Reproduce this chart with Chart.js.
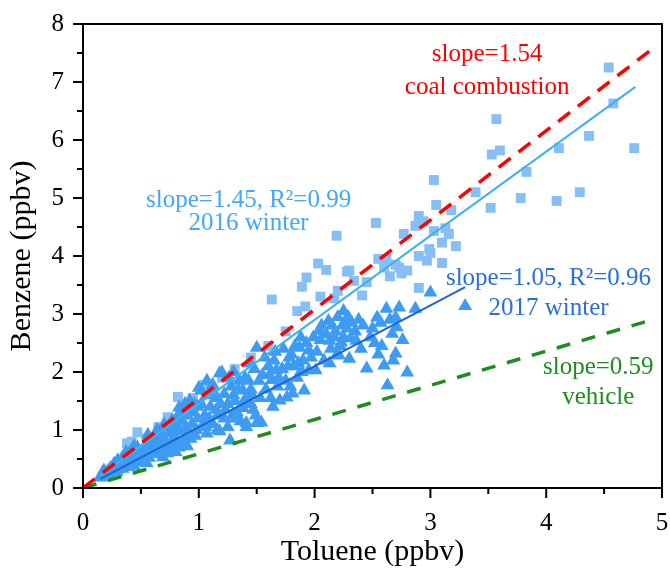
<!DOCTYPE html>
<html>
<head>
<meta charset="utf-8">
<script src="https://cdn.jsdelivr.net/npm/chart.js@4"></script>
<style>
  html, body { margin: 0; padding: 0; background: #fff; }
  #wrap { width: 670px; height: 570px; }
</style>
</head>
<body>
<div id="wrap"><canvas id="grafica"></canvas></div>
<script>
// 2016 winter (squares)
const invierno2016 = [
  [4.54,7.25],[4.58,6.63],[4.76,5.86],[4.37,6.07],[4.11,5.86],[3.57,6.36],[3.53,5.75],[3.60,5.82],
  [3.83,5.45],[3.39,5.10],[3.78,5.00],[3.52,4.83],[4.09,4.95],[4.29,5.10],[3.03,5.31],[3.05,4.88],
  [3.18,4.79],[2.53,4.57],[2.19,4.35],[2.87,4.52],[2.77,4.38],[2.90,4.69],[2.94,4.60],[3.03,4.43],
  [3.13,4.48],[3.16,4.38],[3.10,4.23],[3.22,4.17],[3.00,4.05],[3.10,3.88],[2.62,3.95],[2.73,3.80],
  [2.97,3.92],[2.90,4.00],[2.99,4.12],[2.28,3.73],[2.03,3.87],[2.10,3.76],[2.30,3.75],[1.93,3.63],
  [1.89,3.47],[2.34,3.57],[2.41,3.32],[1.63,3.25],[1.92,3.13],[2.17,3.27],[2.55,3.95],[2.60,3.80],
  [2.70,3.85],[2.75,3.70],[2.65,3.65],[2.90,3.45],[2.80,3.75],[2.45,3.55],[2.20,3.40],[2.05,3.30],
  [1.85,3.05],[1.31,2.05],[1.05,1.78],[0.82,1.57],[0.73,1.22],[0.47,0.96],[0.38,0.77],[0.42,0.80],
  [0.55,0.85],[0.65,1.05],[1.20,1.90],[1.45,2.25],[1.60,2.45],[1.75,2.70],[0.30,0.45],[0.20,0.30],
  [0.95,1.55],[1.10,1.75]
];

// 2017 winter (triangles)
const invierno2017 = [
  [3.30,3.14],[3.00,3.37],[2.87,3.09],[2.73,3.11],[2.62,3.09],[2.54,2.94],[2.57,2.85],[2.70,2.94],
  [2.71,2.77],[2.67,2.66],[2.40,2.40],[2.31,2.58],[2.23,2.51],[2.70,2.32],[2.60,2.11],[2.45,2.06],
  [2.80,1.99],[2.63,1.77],[2.30,2.23],[2.19,2.29],[2.36,2.54],[2.13,2.54],[2.21,2.29],[2.13,2.15],
  [2.01,2.03],[1.87,2.42],[2.04,2.71],[1.88,2.60],[1.95,2.37],[1.95,2.03],[1.91,1.68],[1.81,1.63],
  [1.76,1.56],[1.70,1.51],[1.63,1.86],[1.67,2.03],[1.50,2.42],[1.54,1.13],[1.50,1.12],[1.41,1.05],
  [2.15,2.80],[2.20,2.95],[2.25,3.05],[2.10,2.65],[2.28,2.75],[2.18,2.70],[2.05,2.55],[2.25,2.60],
  [2.32,2.85],[2.12,2.88],[2.27,2.90],[2.22,2.45],[2.35,2.70],
  [1.55,1.95],[1.60,2.10],[1.65,2.20],[1.72,2.05],[1.78,2.25],[1.82,2.10],[1.85,1.90],[1.58,1.70],
  [1.62,1.55],[1.68,1.75],[1.75,1.85],[1.80,2.30],[1.90,2.20],[1.52,1.85],[1.48,2.05],[1.45,1.70],
  [1.42,1.55],[1.47,1.35],
  [1.00,1.73],[1.02,1.68],[1.07,0.94],[1.18,1.98],[1.20,1.99],[1.27,0.82],[1.38,1.68],[1.41,1.12],
  [1.05,1.25],[1.10,1.40],[1.15,1.55],[1.12,1.10],[1.25,1.45],[1.30,1.60],[1.33,1.30],[1.22,1.20],
  [1.35,1.85],[1.28,1.75],[1.40,1.90],[1.15,1.35],[1.08,1.60],[1.25,1.05],[1.32,1.20],[1.45,1.45],
  [1.38,1.38],[1.18,0.98],[1.22,1.62],[1.04,1.10],[1.12,1.78],
  [0.92,1.51],[0.83,1.39],[0.77,1.17],[0.64,1.00],[0.83,0.70],[0.69,0.53],[0.55,0.43],[0.60,0.75],
  [0.70,0.85],[0.75,0.95],[0.80,1.05],[0.85,1.15],[0.90,1.25],[0.95,1.30],[0.65,0.65],[0.72,0.70],
  [0.78,0.80],[0.88,0.90],[0.93,0.85],[0.98,1.00],[0.58,0.60],[0.62,0.88],[0.68,0.95],[0.52,0.65],
  [0.55,0.78],[0.86,1.28],[0.96,1.45],[0.80,0.62],[0.90,0.72],[0.73,0.60],[0.99,1.20],[0.94,1.10],
  [0.43,0.48],[0.26,0.36],[0.17,0.26],[0.32,0.43],[0.20,0.22],[0.22,0.30],[0.25,0.28],[0.28,0.40],
  [0.30,0.32],[0.35,0.38],[0.38,0.50],[0.40,0.42],[0.45,0.58],[0.48,0.52],[0.50,0.62],[0.33,0.48],
  [0.42,0.65],[0.47,0.70],[0.36,0.55],[0.15,0.20],[0.18,0.30],[0.24,0.35],[0.50,0.45],[0.44,0.38],
  [0.16,0.18],[0.19,0.25],[0.21,0.27],[0.23,0.24],[0.27,0.33],[0.29,0.27],[0.31,0.38],[0.34,0.33],
  [0.37,0.45],[0.39,0.36],[0.41,0.55],[0.43,0.40],[0.46,0.47],[0.49,0.58],[0.27,0.42],[0.30,0.48],
  [0.34,0.52],[0.37,0.62],[0.40,0.60],[0.44,0.72],
  [0.52,0.50],[0.54,0.70],[0.57,0.52],[0.59,0.82],[0.61,0.62],[0.63,0.70],[0.66,0.80],[0.67,0.58],
  [0.71,0.78],[0.74,0.68],[0.76,1.05],[0.79,0.90],[0.81,0.75],[0.84,0.98],[0.87,0.80],[0.89,1.05],
  [0.91,0.95],[0.94,1.35],[0.97,0.90],[0.99,1.40],[0.56,0.92],[0.70,1.10],[0.82,1.25],[0.88,1.45],
  [1.02,1.45],[1.06,1.05],[1.09,1.20],[1.13,1.65],[1.16,1.25],[1.19,1.45],[1.23,1.35],[1.26,1.90],
  [1.29,1.25],[1.31,1.50],[1.34,1.70],[1.36,1.15],[1.39,1.50],[1.43,1.85],[1.46,1.60],[1.49,1.25],
  [1.07,1.85],[1.16,1.00],[1.30,2.00],[1.44,2.15],
  [1.53,1.55],[1.57,2.25],[1.61,1.95],[1.64,1.40],[1.66,2.35],[1.69,1.90],[1.73,2.40],[1.77,2.10],
  [1.79,1.75],[1.83,2.45],[1.86,2.15],[1.89,2.00],[1.93,2.50],[1.97,2.25],[1.99,2.60],[2.02,2.35],
  [2.06,2.80],[2.08,2.20],[2.14,2.40],[2.17,2.60],[2.24,2.80],[2.29,2.95],[2.38,2.90],[2.42,2.80],
  [2.48,2.60],[2.50,2.75],[2.52,2.50],[2.58,2.45],[2.65,2.90],[2.76,2.55],[2.68,2.20],[2.55,2.30]
];

// Rectas: [x inicio, x fin], pendiente
const pendientes = { carbon: 1.54, vehiculo: 0.59, w2016: 1.45, w2017: 1.05 };
const rangoCarbon = [0, 4.93];
const rangoVehiculo = [0, 4.93];
const rango2016 = [0.15, 4.77];
const rango2017 = [0.15, 3.30];

const ticksX = [0, 1, 2, 3, 4, 5];
const ticksY = [0, 1, 2, 3, 4, 5, 6, 7, 8];

const fuente = "'Liberation Serif', 'Times New Roman', serif";

function puntos(lista) {
  return lista.map(p => ({ x: p[0], y: p[1] }));
}
function recta(rango, m) {
  return rango.map(x => ({ x: x, y: m * x }));
}

// Textos sobre la grafica (coordenadas de datos)
const etiquetas = [
  { t: "slope=1.54", x: 3.49, y: 7.47, c: "#ff0000" },
  { t: "coal combustion", x: 3.49, y: 6.91, c: "#ff0000" },
  { t: "slope=1.45, R\u00B2=0.99", x: 1.43, y: 4.96, c: "#44a8f4" },
  { t: "2016 winter", x: 1.43, y: 4.56, c: "#44a8f4" },
  { t: "slope=1.05, R\u00B2=0.96", x: 4.02, y: 3.62, c: "#2a6fdc" },
  { t: "2017 winter", x: 4.02, y: 3.09, c: "#2a6fdc" },
  { t: "slope=0.59", x: 4.45, y: 2.08, c: "#1e8c1e" },
  { t: "vehicle", x: 4.45, y: 1.56, c: "#1e8c1e" }
];

const marco = {
  id: "marco",
  afterDatasetsDraw(chart) {
    const ctx = chart.ctx;
    const a = chart.chartArea;
    const sx = chart.scales.x, sy = chart.scales.y;
    ctx.save();
    ctx.strokeStyle = "#000";
    ctx.lineWidth = 2;
    ctx.strokeRect(a.left, a.top, a.right - a.left, a.bottom - a.top);
    ctx.beginPath();
    for (let v = 0; v <= 5.001; v += 0.5) {
      const px = sx.getPixelForValue(v);
      const len = Number.isInteger(v) ? 10 : 6;
      ctx.moveTo(px, a.bottom);
      ctx.lineTo(px, a.bottom + len);
    }
    for (let v = 0; v <= 8.001; v += 0.5) {
      const py = sy.getPixelForValue(v);
      const len = Number.isInteger(v) ? 10 : 6;
      ctx.moveTo(a.left, py);
      ctx.lineTo(a.left - len, py);
    }
    ctx.stroke();

    ctx.font = "25px " + fuente;
    ctx.textAlign = "center";
    ctx.textBaseline = "middle";
    etiquetas.forEach(e => {
      ctx.fillStyle = e.c;
      ctx.fillText(e.t, sx.getPixelForValue(e.x), sy.getPixelForValue(e.y));
    });
    ctx.restore();
  }
};

const ctx = document.getElementById("grafica").getContext("2d");
new Chart(ctx, {
  type: "scatter",
  data: {
    datasets: [
      {
        label: "coal combustion",
        data: recta(rangoCarbon, pendientes.carbon),
        showLine: true, pointRadius: 0,
        borderColor: "#ff0000", borderWidth: 3.5, borderDash: [15, 10],
        order: 0
      },
      {
        label: "vehicle",
        data: recta(rangoVehiculo, pendientes.vehiculo),
        showLine: true, pointRadius: 0,
        borderColor: "#1e8c1e", borderWidth: 3.5, borderDash: [14, 12],
        order: 0
      },
      {
        label: "fit 2016",
        data: recta(rango2016, pendientes.w2016),
        showLine: true, pointRadius: 0,
        borderColor: "#3fb0f2", borderWidth: 2,
        order: 0
      },
      {
        label: "fit 2017",
        data: recta(rango2017, pendientes.w2017),
        showLine: true, pointRadius: 0,
        borderColor: "#1c64d2", borderWidth: 2,
        order: 0
      },
      {
        label: "2017 winter",
        data: puntos(invierno2017),
        pointStyle: "triangle", pointRadius: 8,
        backgroundColor: "#3d9bf2", borderWidth: 0,
        order: 1
      },
      {
        label: "2016 winter",
        data: puntos(invierno2016),
        pointStyle: "rect", pointRadius: 7,
        backgroundColor: "#86bff6", borderWidth: 0,
        order: 2
      }
    ]
  },
  options: {
    responsive: true,
    maintainAspectRatio: false,
    animation: false,
    layout: { padding: { top: 23, right: 3, left: 0, bottom: 0 } },
    plugins: { legend: { display: false }, tooltip: { enabled: false } },
    scales: {
      x: {
        type: "linear", min: 0, max: 5,
        afterBuildTicks: s => { s.ticks = ticksX.map(v => ({ value: v })); },
        afterFit: s => { s.height = 82; s.paddingRight = 0; s.paddingLeft = 0; },
        grid: { drawOnChartArea: false, color: "transparent", tickLength: 10 },
        border: { display: false },
        ticks: { color: "#000", font: { family: fuente, size: 25 }, padding: 10 },
        title: { display: true, text: "Toluene (ppbv)", color: "#000",
                 font: { family: fuente, size: 30 }, padding: 0 }
      },
      y: {
        type: "linear", min: 0, max: 8,
        afterBuildTicks: s => { s.ticks = ticksY.map(v => ({ value: v })); },
        afterFit: s => { s.width = 83; },
        grid: { drawOnChartArea: false, color: "transparent", tickLength: 10 },
        border: { display: false },
        ticks: { color: "#000", font: { family: fuente, size: 25 }, padding: 9 },
        title: { display: true, text: "Benzene (ppbv)", color: "#000",
                 font: { family: fuente, size: 30 }, padding: 4 }
      }
    }
  },
  plugins: [marco]
});
</script>
</body>
</html>
